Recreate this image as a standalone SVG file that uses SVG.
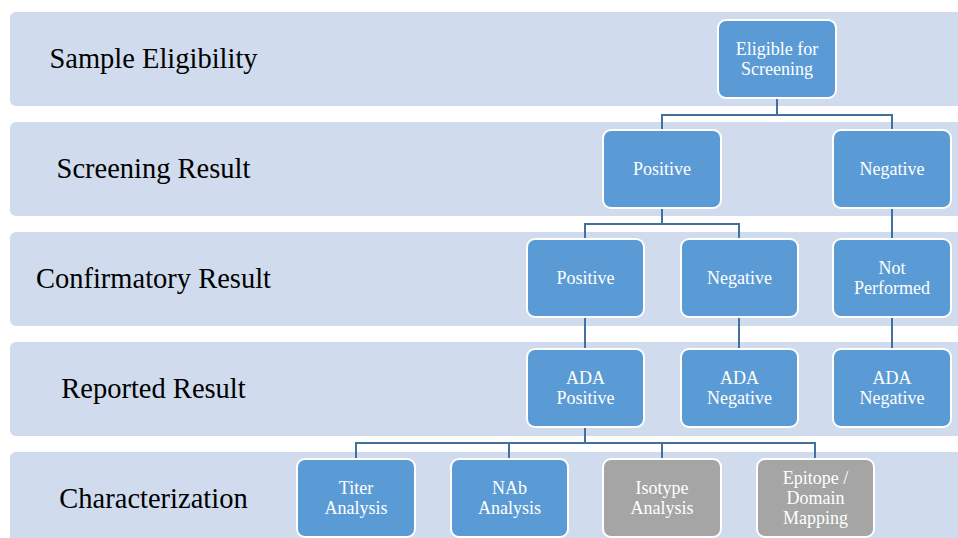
<svg xmlns="http://www.w3.org/2000/svg" width="958" height="538" viewBox="0 0 958 538">
<style>
.band{fill:#D0DCEE}
.lbl{font-size:28.5px;fill:#000;text-anchor:middle}
.nb{fill:#5B9BD5;stroke:#fff;stroke-width:2}
.ng{fill:#A5A5A5;stroke:#fff;stroke-width:2}
.nt{font-size:18px;fill:#fff;text-anchor:middle}
.conn{fill:none;stroke:#41719C;stroke-width:2}
</style>
<rect width="958" height="538" fill="#fff"/>
<g id="bands" font-family="Liberation Serif, Tinos, Times New Roman, Noto Serif, DejaVu Serif, FreeSerif, serif">
<rect class="band" x="10" y="12" width="960" height="94" rx="6"/>
<rect class="band" x="10" y="122" width="960" height="94" rx="6"/>
<rect class="band" x="10" y="232" width="960" height="94" rx="6"/>
<rect class="band" x="10" y="342" width="960" height="94" rx="6"/>
<rect class="band" x="10" y="452" width="960" height="94" rx="6"/>
<text class="lbl" x="153.5" y="68">Sample Eligibility</text>
<text class="lbl" x="153.5" y="178">Screening Result</text>
<text class="lbl" x="153.5" y="288">Confirmatory Result</text>
<text class="lbl" x="153.5" y="398">Reported Result</text>
<text class="lbl" x="153.5" y="508">Characterization</text>
</g>
<g id="connectors">
<path class="conn" d="M777 98V115M662 130V115H892V130"/>
<path class="conn" d="M662 208V224M585 239V224H739V239"/>
<path class="conn" d="M892 208V239"/>
<path class="conn" d="M585 317V349M739 317V349M892 317V349"/>
<path class="conn" d="M585 427V443M356 459V443H815V459M509 443V459M662 443V459"/>
</g>
<g id="nodes" font-family="Liberation Serif, Tinos, Times New Roman, Noto Serif, DejaVu Serif, FreeSerif, serif">
<g id="eligible"><rect class="nb" x="718" y="20" width="118" height="78" rx="8"/><text class="nt" x="777" y="55">Eligible for</text><text class="nt" x="777" y="75">Screening</text></g>
<g id="scr-pos"><rect class="nb" x="603" y="130" width="118" height="78" rx="8"/><text class="nt" x="662" y="175">Positive</text></g>
<g id="scr-neg"><rect class="nb" x="833" y="130" width="118" height="78" rx="8"/><text class="nt" x="892" y="175">Negative</text></g>
<g id="conf-pos"><rect class="nb" x="527" y="239" width="117" height="78" rx="8"/><text class="nt" x="585.5" y="284">Positive</text></g>
<g id="conf-neg"><rect class="nb" x="681" y="239" width="117" height="78" rx="8"/><text class="nt" x="739.5" y="284">Negative</text></g>
<g id="conf-np"><rect class="nb" x="833" y="239" width="118" height="78" rx="8"/><text class="nt" x="892" y="274">Not</text><text class="nt" x="892" y="294">Performed</text></g>
<g id="rep-pos"><rect class="nb" x="527" y="349" width="117" height="78" rx="8"/><text class="nt" x="585.5" y="384">ADA</text><text class="nt" x="585.5" y="404">Positive</text></g>
<g id="rep-neg1"><rect class="nb" x="681" y="349" width="117" height="78" rx="8"/><text class="nt" x="739.5" y="384">ADA</text><text class="nt" x="739.5" y="404">Negative</text></g>
<g id="rep-neg2"><rect class="nb" x="833" y="349" width="118" height="78" rx="8"/><text class="nt" x="892" y="384">ADA</text><text class="nt" x="892" y="404">Negative</text></g>
<g id="titer"><rect class="nb" x="297" y="459" width="118" height="78" rx="8"/><text class="nt" x="356" y="494">Titer</text><text class="nt" x="356" y="514">Analysis</text></g>
<g id="nab"><rect class="nb" x="451" y="459" width="117" height="78" rx="8"/><text class="nt" x="509.5" y="494">NAb</text><text class="nt" x="509.5" y="514">Analysis</text></g>
<g id="isotype"><rect class="ng" x="603" y="459" width="118" height="78" rx="8"/><text class="nt" x="662" y="494">Isotype</text><text class="nt" x="662" y="514">Analysis</text></g>
<g id="epitope"><rect class="ng" x="757" y="459" width="117" height="78" rx="8"/><text class="nt" x="815.5" y="484">Epitope /</text><text class="nt" x="815.5" y="504">Domain</text><text class="nt" x="815.5" y="524">Mapping</text></g>
</g>
</svg>
